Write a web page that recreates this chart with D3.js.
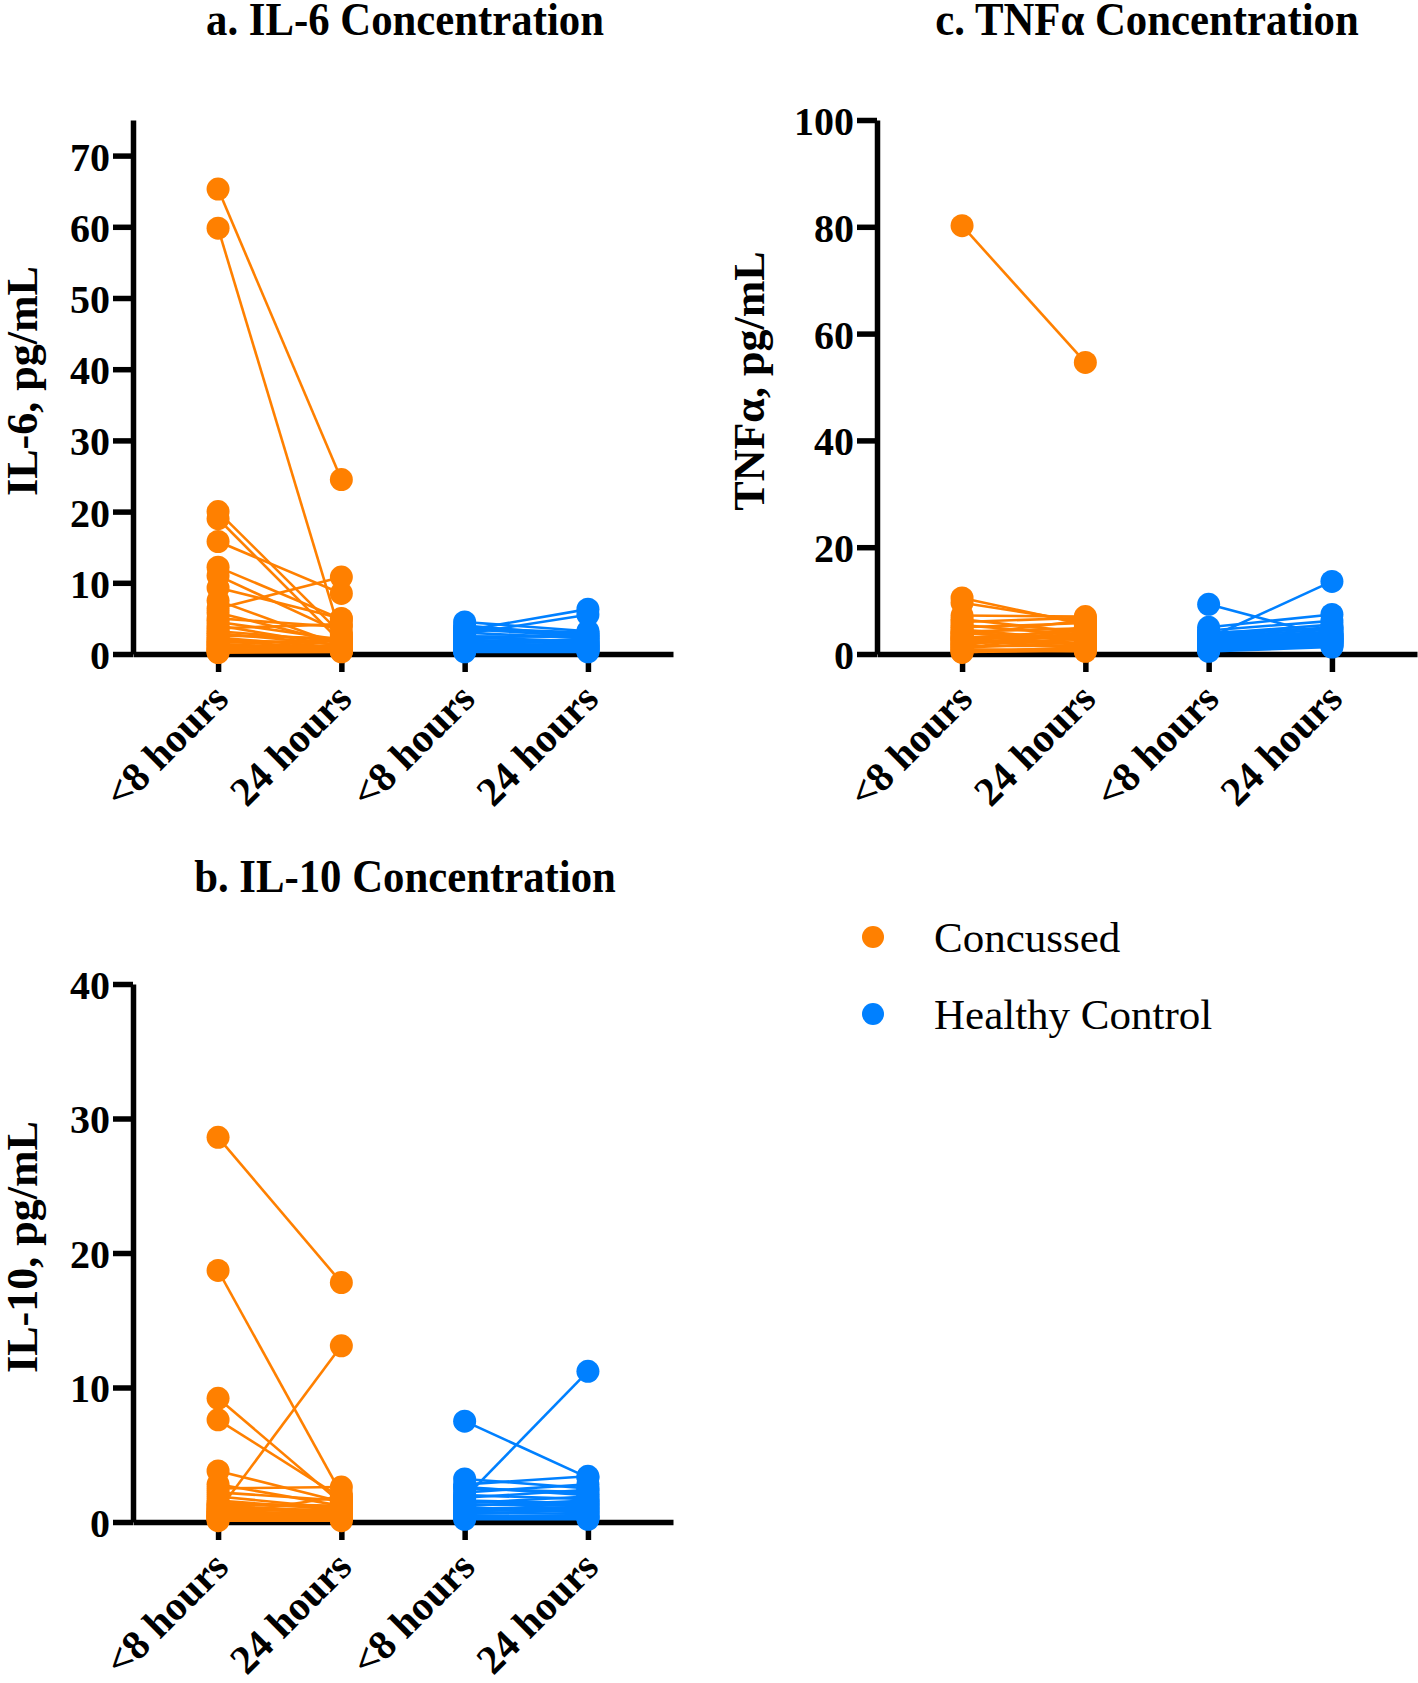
<!DOCTYPE html>
<html><head><meta charset="utf-8">
<script src="https://cdn.jsdelivr.net/npm/d3@7"></script>
<style>
html,body{margin:0;padding:0;background:#fff;}
svg{display:block;font-family:"Liberation Serif","Times New Roman",serif;}
</style></head>
<body>
<svg id="chart" width="1418" height="1683"></svg>
<script>
// ---------- DATA ----------
const categories = ["<8 hours", "24 hours", "<8 hours", "24 hours"];
const groups = ["Concussed", "Healthy Control"];
const titles = ["a. IL-6 Concentration", "b. IL-10 Concentration", "c. TNFα Concentration"];
const yLabels = ["IL-6, pg/mL", "IL-10, pg/mL", "TNFα, pg/mL"];
const il6Ticks = [0, 10, 20, 30, 40, 50, 60, 70];
const il10Ticks = [0, 10, 20, 30, 40];
const tnfTicks = [0, 20, 40, 60, 80, 100];

const il6Concussed8h  = [65.3, 59.8, 20.0, 19.0, 15.8, 12.2, 11.0, 9.3, 7.5, 6.4, 5.8, 5.0, 4.5, 4.0, 3.6, 3.2, 2.9, 2.6, 2.3, 2.0, 1.8, 1.6, 1.4, 1.2, 1.0, 0.8, 0.6, 0.5, 0.3, 0.2];
const il6Concussed24h = [24.5, 2.4, 2.8, 1.6, 8.5, 4.9, 3.0, 5.0, 1.2, 10.8, 1.5, 3.8, 2.0, 1.1, 4.2, 1.8, 1.3, 2.2, 0.9, 1.4, 0.8, 1.9, 0.7, 1.0, 0.6, 1.2, 0.4, 0.8, 0.5, 0.3];
const il6Healthy8h    = [4.5, 4.0, 3.6, 3.3, 3.0, 2.8, 2.5, 2.3, 2.1, 1.9, 1.7, 1.5, 1.4, 1.2, 1.0, 0.9, 0.8, 0.6, 0.5, 0.4, 3.5, 2.0, 1.3, 1.1, 0.7, 0.3];
const il6Healthy24h   = [3.2, 2.6, 3.0, 6.3, 2.2, 5.5, 2.4, 1.8, 2.9, 1.6, 2.0, 1.2, 1.9, 1.0, 1.3, 0.8, 1.1, 0.7, 0.6, 0.5, 2.5, 1.5, 1.4, 0.9, 0.4, 0.3];

const tnfConcussed8h  = [80.2, 10.5, 9.6, 7.2, 6.5, 6.0, 5.4, 5.0, 4.6, 4.2, 3.9, 3.6, 3.3, 3.0, 2.8, 2.5, 2.2, 2.0, 1.8, 1.5, 1.2, 1.0, 0.7, 0.4, 3.1, 4.0, 2.6, 1.6, 0.9, 0.3];
const tnfConcussed24h = [54.6, 5.5, 6.0, 7.0, 4.0, 6.8, 3.5, 5.8, 2.5, 4.8, 3.0, 6.3, 2.0, 4.4, 3.2, 1.2, 5.0, 2.8, 3.8, 1.5, 2.2, 4.2, 1.0, 0.6, 3.6, 2.6, 1.8, 4.6, 0.5, 1.3];
const tnfHealthy8h    = [9.3, 3.0, 5.0, 4.4, 3.8, 3.5, 3.2, 2.9, 2.7, 2.5, 2.3, 2.1, 1.9, 1.7, 1.5, 1.3, 1.1, 0.9, 0.7, 0.5, 4.0, 2.6, 2.0, 1.4, 3.4, 2.8];
const tnfHealthy24h   = [3.2, 13.6, 7.4, 6.2, 5.5, 5.0, 4.6, 4.2, 3.9, 3.6, 3.4, 3.1, 2.9, 2.7, 2.5, 2.3, 2.1, 1.9, 1.6, 1.3, 4.8, 3.0, 2.4, 1.7, 3.7, 2.6];

const il10Concussed8h  = [28.6, 18.7, 9.2, 7.6, 3.8, 2.8, 2.5, 2.2, 1.9, 1.6, 1.4, 1.2, 1.0, 0.9, 0.8, 0.7, 0.6, 0.5, 0.4, 0.3, 0.2, 1.1, 0.5, 0.4, 0.3, 0.1, 1.3, 0.6, 0.8, 0.2];
const il10Concussed24h = [17.8, 2.1, 1.4, 1.8, 1.5, 1.2, 2.6, 1.6, 1.0, 0.9, 1.2, 0.8, 0.7, 0.9, 13.1, 0.6, 0.5, 0.8, 0.4, 0.3, 0.6, 0.7, 1.9, 0.5, 0.4, 0.1, 1.1, 0.3, 0.6, 0.2];
const il10Healthy8h    = [7.5, 1.8, 3.2, 2.8, 2.5, 2.2, 2.0, 1.8, 1.6, 1.4, 1.3, 1.2, 1.0, 0.9, 0.8, 0.7, 0.6, 0.5, 0.4, 0.3, 2.6, 1.5, 1.1, 0.7, 0.4, 0.2];
const il10Healthy24h   = [3.3, 11.2, 2.5, 3.4, 2.2, 2.8, 1.7, 2.4, 1.4, 1.9, 1.2, 1.6, 1.1, 0.8, 1.0, 0.6, 0.9, 0.4, 0.5, 0.3, 2.0, 1.3, 0.7, 1.5, 0.3, 0.2];

// ---------- STYLE ----------
const colors = ["#ff8000", "#0080ff"];
const svg = d3.select("#chart");

function drawPanel(cfg) {
  const g = svg.append("g");
  const x = d3.scalePoint().domain([0, 1, 2, 3]).range([cfg.left, cfg.right]).padding(0.69);
  const y = d3.scaleLinear().domain([0, cfg.max]).range([cfg.bottom, cfg.top]);

  // title (slightly condensed, like the original)
  g.append("text")
    .attr("transform", `translate(${cfg.titleX},${cfg.titleY}) scale(0.93,1)`)
    .attr("text-anchor", "middle").attr("font-weight", "bold").attr("font-size", 46)
    .text(cfg.title);

  // y label
  g.append("text")
    .attr("transform", `translate(${cfg.yLabelX},${(cfg.top + cfg.bottom) / 2 - 6}) rotate(-90)`)
    .attr("text-anchor", "middle").attr("font-weight", "bold").attr("font-size", 44)
    .text(cfg.yLabel);

  // y axis
  const ya = g.append("g").attr("transform", `translate(${cfg.left},0)`)
    .call(d3.axisLeft(y).tickValues(cfg.ticks).tickSize(20).tickSizeOuter(0).tickPadding(3).tickFormat(d3.format("d")));
  // x axis
  const xa = g.append("g").attr("transform", `translate(0,${cfg.bottom})`)
    .call(d3.axisBottom(x).tickSize(18).tickSizeOuter(0).tickFormat(i => categories[i]));

  [ya, xa].forEach(a => {
    a.select(".domain").attr("stroke", "#000").attr("stroke-width", 5.5);
    a.selectAll(".tick line").attr("stroke", "#000").attr("stroke-width", 5.5);
    a.selectAll("text").attr("fill", "#000").attr("font-family", "Liberation Serif, Times New Roman, serif")
      .attr("font-weight", "bold").attr("font-size", 40);
  });
  ya.selectAll(".tick text").attr("dy", "0.36em");
  xa.selectAll(".tick text")
    .attr("x", 0).attr("y", 0).attr("dy", 0).attr("font-size", 41)
    .attr("text-anchor", "end")
    .attr("transform", "translate(12,47) rotate(-45)");

  // data
  cfg.series.forEach((s, gi) => {
    const xi0 = gi * 2, xi1 = gi * 2 + 1;
    const col = colors[gi];
    const lines = g.append("g");
    s[0].forEach((v, i) => {
      lines.append("line")
        .attr("x1", x(xi0)).attr("y1", y(v))
        .attr("x2", x(xi1)).attr("y2", y(s[1][i]))
        .attr("stroke", col).attr("stroke-width", 2.6);
    });
    const dots = g.append("g").attr("fill", col);
    s[0].forEach(v => dots.append("circle").attr("cx", x(xi0)).attr("cy", y(v)).attr("r", 11.5));
    s[1].forEach(v => dots.append("circle").attr("cx", x(xi1)).attr("cy", y(v)).attr("r", 11.5));
  });
}

drawPanel({
  left: 133, right: 673, top: 120, bottom: 654, max: 75, ticks: il6Ticks,
  title: titles[0], titleX: 405, titleY: 35, yLabel: yLabels[0], yLabelX: 37,
  series: [[il6Concussed8h, il6Concussed24h], [il6Healthy8h, il6Healthy24h]]
});
drawPanel({
  left: 877, right: 1417, top: 120, bottom: 654, max: 100, ticks: tnfTicks,
  title: titles[2], titleX: 1147, titleY: 35, yLabel: yLabels[2], yLabelX: 764,
  series: [[tnfConcussed8h, tnfConcussed24h], [tnfHealthy8h, tnfHealthy24h]]
});
drawPanel({
  left: 133, right: 673, top: 984, bottom: 1522, max: 40, ticks: il10Ticks,
  title: titles[1], titleX: 405, titleY: 892, yLabel: yLabels[1], yLabelX: 37,
  series: [[il10Concussed8h, il10Concussed24h], [il10Healthy8h, il10Healthy24h]]
});

// legend
const legend = svg.append("g");
groups.forEach((name, i) => {
  const ly = 937 + i * 77;
  legend.append("circle").attr("cx", 873).attr("cy", ly).attr("r", 11).attr("fill", colors[i]);
  legend.append("text").attr("x", 934).attr("y", ly).attr("dy", "0.35em")
    .attr("font-size", 43).attr("fill", "#000").text(name);
});
</script>
</body></html>
